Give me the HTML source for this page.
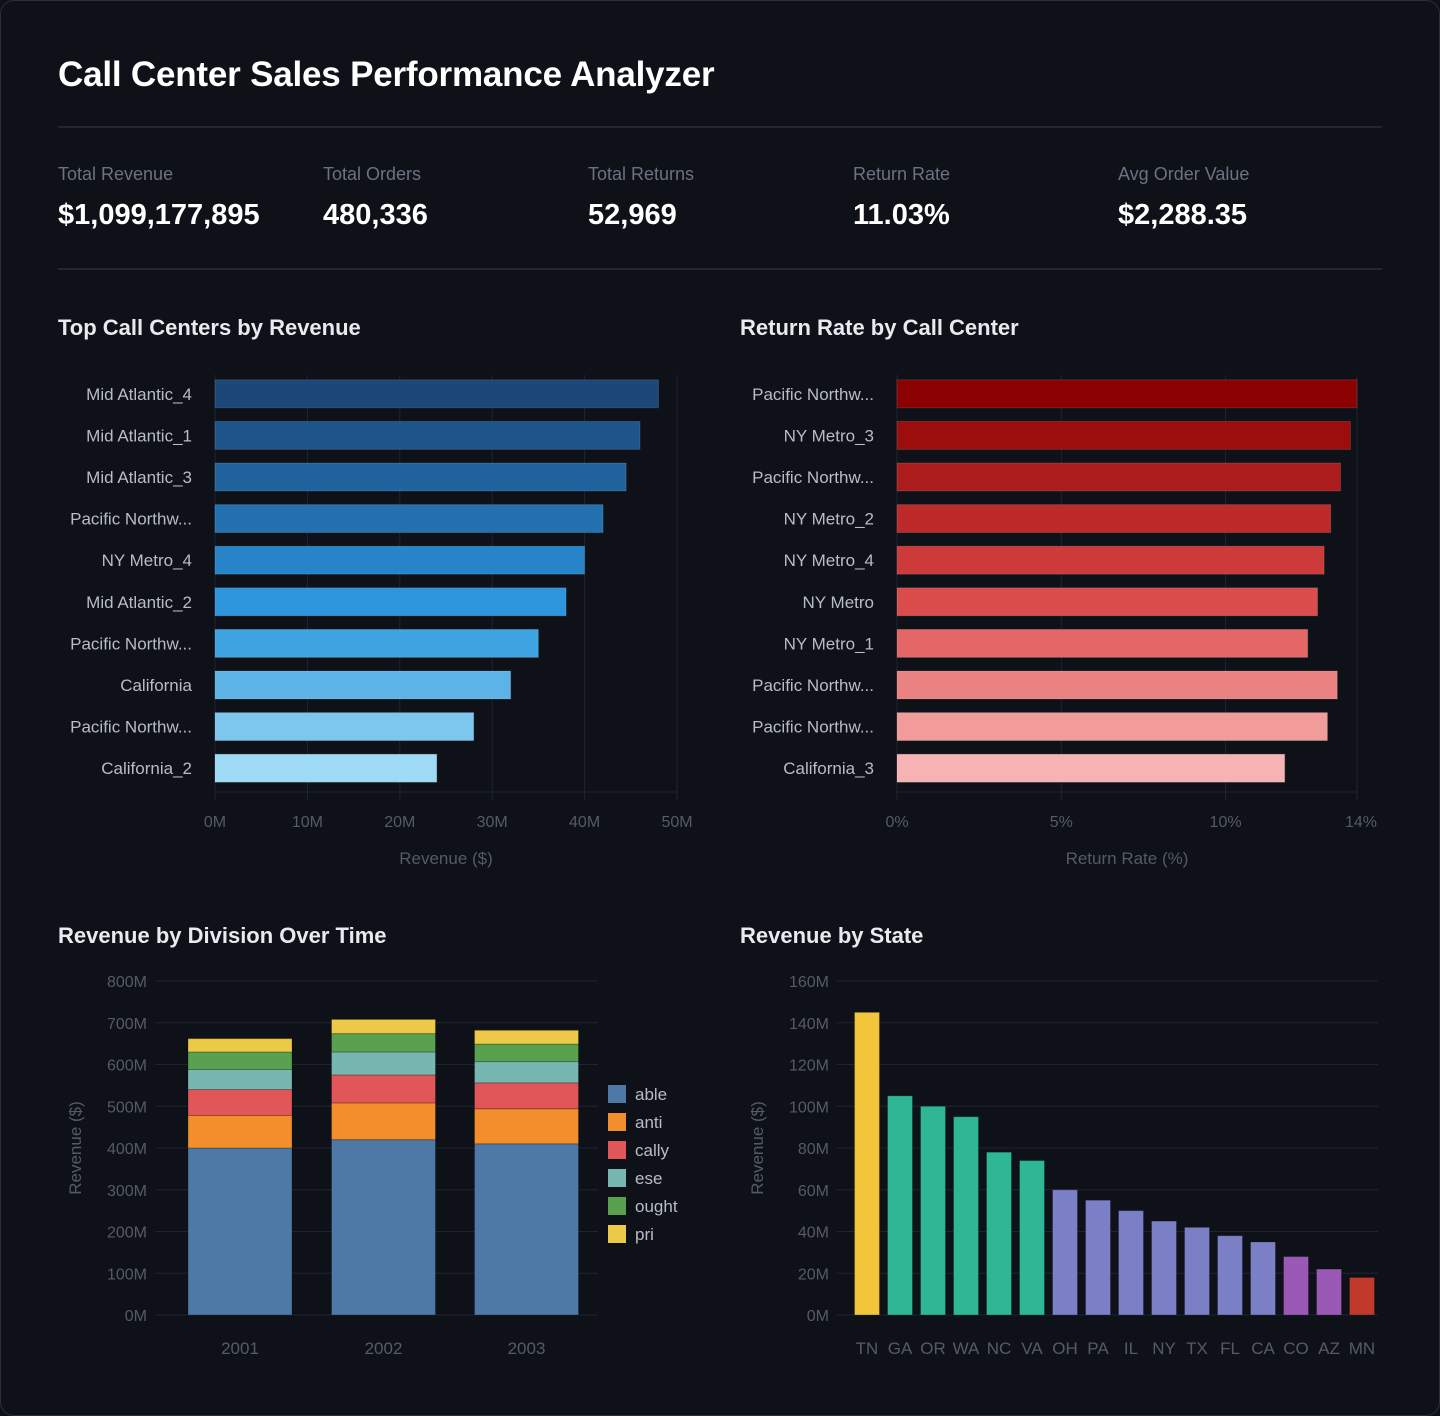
<!DOCTYPE html>
<html><head><meta charset="utf-8">
<style>
html,body{margin:0;padding:0;background:#0e1118;width:1440px;height:1416px;overflow:hidden;font-family:"Liberation Sans",sans-serif}
.card{position:absolute;left:0;top:0;width:1438px;height:1414px;border:1px solid #2a2f3a;border-radius:14px;background:#0e1118}
h1{position:absolute;left:58px;top:55px;margin:0;font-size:35px;font-weight:bold;color:#fff;letter-spacing:-0.2px}
.hr{position:absolute;left:58px;width:1324px;height:2px;background:#222733}
.kpi{position:absolute;top:164px}
.kpi .l{font-size:18px;color:#6b7280}
.kpi .v{font-size:29px;font-weight:bold;color:#fff;margin-top:14px}
.ct{position:absolute;font-size:22px;font-weight:bold;color:#e8eaf0}
svg{position:absolute;left:0;top:0}
svg text{font-family:"Liberation Sans",sans-serif}
</style></head><body>
<div class="card"></div>
<h1>Call Center Sales Performance Analyzer</h1>
<div class="hr" style="top:126px"></div>
<div class="kpi" style="left:58px"><div class="l">Total Revenue</div><div class="v">$1,099,177,895</div></div>
<div class="kpi" style="left:323px"><div class="l">Total Orders</div><div class="v">480,336</div></div>
<div class="kpi" style="left:588px"><div class="l">Total Returns</div><div class="v">52,969</div></div>
<div class="kpi" style="left:853px"><div class="l">Return Rate</div><div class="v">11.03%</div></div>
<div class="kpi" style="left:1118px"><div class="l">Avg Order Value</div><div class="v">$2,288.35</div></div>
<div class="hr" style="top:268px"></div>
<div class="ct" style="left:58px;top:315px">Top Call Centers by Revenue</div>
<div class="ct" style="left:740px;top:315px">Return Rate by Call Center</div>
<div class="ct" style="left:58px;top:923px">Revenue by Division Over Time</div>
<div class="ct" style="left:740px;top:923px">Revenue by State</div>
<svg id="s" width="1440" height="1416"></svg>
<script>
const c1Labels=["Mid Atlantic_4","Mid Atlantic_1","Mid Atlantic_3","Pacific Northw...","NY Metro_4","Mid Atlantic_2","Pacific Northw...","California","Pacific Northw...","California_2"];
const c1Values=[48,46,44.5,42,40,38,35,32,28,24];
const c1Ticks=[0,10,20,30,40,50];
const c2Labels=["Pacific Northw...","NY Metro_3","Pacific Northw...","NY Metro_2","NY Metro_4","NY Metro","NY Metro_1","Pacific Northw...","Pacific Northw...","California_3"];
const c2Values=[14.0,13.8,13.5,13.2,13.0,12.8,12.5,13.4,13.1,11.8];
const c2Ticks=[0,5,10,14];
const c3Years=["2001","2002","2003"];
const c3Series=["able","anti","cally","ese","ought","pri"];
const c3Able=[400,420,410];
const c3Anti=[78,88,84];
const c3Cally=[62,67,62];
const c3Ese=[48,55,51];
const c3Ought=[42,44,42];
const c3Pri=[32,34,33];
const c3Ticks=[0,100,200,300,400,500,600,700,800];
const c4States=["TN","GA","OR","WA","NC","VA","OH","PA","IL","NY","TX","FL","CA","CO","AZ","MN"];
const c4Values=[145,105,100,95,78,74,60,55,50,45,42,38,35,28,22,18];
const c4Ticks=[0,20,40,60,80,100,120,140,160];

const S=document.getElementById('s');const NS='http://www.w3.org/2000/svg';
function el(t,a,txt){const e=document.createElementNS(NS,t);for(const k in a)e.setAttribute(k,a[k]);if(txt!==undefined)e.textContent=txt;S.appendChild(e);return e;}
const GRID='#1e2431',TICK='#555b66',LAB='#b8bcc6';
function mix(a,b,t){const p=s=>[1,3,5].map(i=>parseInt(s.substr(i,2),16));const A=p(a),B=p(b);return 'rgb('+A.map((v,i)=>Math.round(v+(B[i]-v)*t)).join(',')+')';}
function ramp(stops,t){for(let i=1;i<stops.length;i++){if(t<=stops[i][0]){const a=stops[i-1],b=stops[i];return mix(a[1],b[1],(t-a[0])/(b[0]-a[0]));}}return stops[stops.length-1][1];}
const BLUE=[[0,'#1b4878'],[0.33,'#2470b0'],[0.5,'#2a8ed4'],[0.6,'#2e9be0'],[0.8,'#62b6e6'],[1,'#9ed9f6']];
const RED=[[0,'#8b0000'],[0.4,'#c83232'],[0.6,'#e05555'],[0.8,'#ec8888'],[1,'#f7b3b3']];

// chart 1
(function(){const x0=215,x1=677,max=50,top=373,step=41.6,h=28;const X=v=>x0+v/max*(x1-x0);
c1Ticks.forEach(t=>{let g=el('line',{x1:X(t),x2:X(t),y1:375,y2:800,stroke:GRID});

let tx=el('text',{x:X(t),y:827,fill:TICK,'font-size':16,'text-anchor':'middle'},t+'M');
});
let ax=el('line',{x1:x0,x2:x1,y1:792,y2:792,stroke:GRID});
c1Values.forEach((v,i)=>{const cy=top+20.8+i*step;
let r=el('rect',{x:x0,y:cy-h/2,width:X(v)-x0,height:h,fill:ramp(BLUE,i/9),stroke:'rgba(255,255,255,0.12)'});

let l=el('text',{x:192,y:cy+6,fill:LAB,'font-size':17,'text-anchor':'end'},c1Labels[i]);
});
let t=el('text',{x:446,y:864,fill:TICK,'font-size':17,'text-anchor':'middle'},'Revenue ($)');
})();

// chart 2
(function(){const x0=897,x1=1357,max=14,top=373,step=41.6,h=28;const X=v=>x0+v/max*(x1-x0);
c2Ticks.forEach(t=>{let g=el('line',{x1:X(t),x2:X(t),y1:375,y2:800,stroke:GRID});

let tx=el('text',{x:X(t)+(t==14?4:0),y:827,fill:TICK,'font-size':16,'text-anchor':'middle'},t+'%');
});
let ax=el('line',{x1:x0,x2:x1,y1:792,y2:792,stroke:GRID});
c2Values.forEach((v,i)=>{const cy=top+20.8+i*step;
let r=el('rect',{x:x0,y:cy-h/2,width:X(v)-x0,height:h,fill:ramp(RED,i/9),stroke:'rgba(255,255,255,0.12)'});

let l=el('text',{x:874,y:cy+6,fill:LAB,'font-size':17,'text-anchor':'end'},c2Labels[i]);
});
let t=el('text',{x:1127,y:864,fill:TICK,'font-size':17,'text-anchor':'middle'},'Return Rate (%)');
})();

// chart 3
(function(){const y0=1315,y1=981,max=800;const Y=v=>y0-v/max*(y0-y1);
c3Ticks.forEach(t=>{let g=el('line',{x1:155,x2:598,y1:Y(t),y2:Y(t),stroke:GRID});

let tx=el('text',{x:147,y:Y(t)+6,fill:TICK,'font-size':16,'text-anchor':'end'},t+'M');
});
const data=[c3Able,c3Anti,c3Cally,c3Ese,c3Ought,c3Pri];const cols=['#4e79a7','#f28e2b','#e15759','#76b7b2','#59a14f','#edc948'];
const cx=[240,383.5,526.5];
c3Years.forEach((yr,i)=>{let acc=0;data.forEach((ser,k)=>{const v=ser[i];
let r=el('rect',{x:cx[i]-52,y:Y(acc+v),width:104,height:Y(acc)-Y(acc+v),fill:cols[k],stroke:'rgba(0,0,0,0.25)'});
acc+=v;});
let tx=el('text',{x:cx[i],y:1354,fill:TICK,'font-size':17,'text-anchor':'middle'},yr);
});
c3Series.forEach((s,k)=>{const y=1094+k*28;
let r=el('rect',{x:608,y:y-9,width:18,height:18,fill:cols[k]});
let t=el('text',{x:635,y:y+6,fill:LAB,'font-size':17},s);});
let t=el('text',{x:0,y:0,fill:TICK,'font-size':17,'text-anchor':'middle',transform:'translate(81,1148) rotate(-90)'},'Revenue ($)');
})();

// chart 4
(function(){const y0=1315,y1=981,max=160;const Y=v=>y0-v/max*(y0-y1);
c4Ticks.forEach(t=>{let g=el('line',{x1:837,x2:1378,y1:Y(t),y2:Y(t),stroke:GRID});

let tx=el('text',{x:829,y:Y(t)+6,fill:TICK,'font-size':16,'text-anchor':'end'},t+'M');
});
const col=i=>i==0?'#f2c53d':i<6?'#2eb695':i<13?'#7b7fc6':i<15?'#9b59b6':'#c0392b';
c4States.forEach((st,i)=>{const cx=867+i*33;const v=c4Values[i];
let r=el('rect',{x:cx-12.5,y:Y(v),width:25,height:y0-Y(v),fill:col(i),stroke:'rgba(0,0,0,0.25)'});

let tx=el('text',{x:cx,y:1354,fill:TICK,'font-size':17,'text-anchor':'middle'},st);
});
let t=el('text',{x:0,y:0,fill:TICK,'font-size':17,'text-anchor':'middle',transform:'translate(763,1148) rotate(-90)'},'Revenue ($)');
})();
</script>
</body></html>
